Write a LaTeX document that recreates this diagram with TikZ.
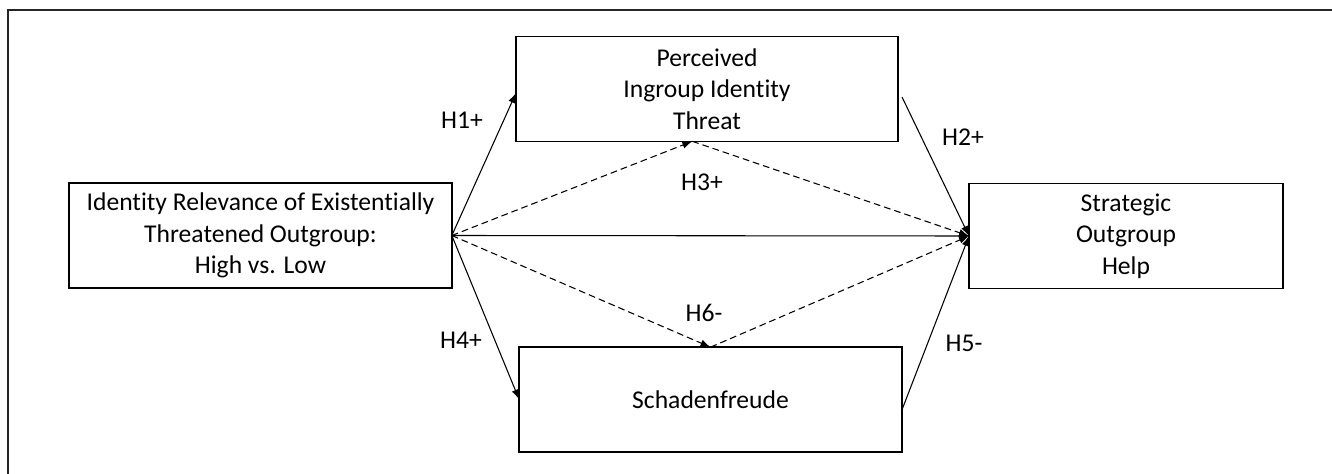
\documentclass[tikz,border=0pt]{standalone}
\usepackage{fontspec}
\setmainfont[Ligatures=NoCommon]{Carlito}
\usetikzlibrary{arrows.meta}
\begin{document}
\begin{tikzpicture}[x=0.75pt,y=-0.75pt,
        box/.style={draw,line width=1.1pt,minimum height=78.5pt,align=center,inner sep=0pt,outer sep=0pt,font=\fontsize{19.2}{23.6}\selectfont},
        pfeil/.style={line width=0.8pt,-{Latex[length=7.5pt,width=5.5pt]}},
        gestr/.style={pfeil,dash pattern=on 5pt off 3pt},
        lab/.style={font=\fontsize{19.2}{23.6}\selectfont}]
        \useasboundingbox (0,0) rectangle (1332,474);
        \draw[line width=1pt,black!85] (8,474) -- (8,10) -- (1332,10);
        % Kaesten
        \node[box,minimum width=287pt] (iv) at (260.5,235.5) {Identity Relevance of Existentially\\Threatened Outgroup:\\High vs. Low};
        \node[box,minimum width=286.5pt] (threat) at (707,89) {Perceived\\Ingroup Identity\\Threat};
        \node[box,minimum width=235.5pt] (help) at (1126,236) {Strategic\\Outgroup\\Help};
        \node[box,minimum width=287pt] (schaden) at (710.5,399.5) {Schadenfreude};
        % Pfade
        \draw[pfeil] (iv.east) -- ([yshift=-3pt]threat.west);
        \draw[pfeil] (iv.east) -- (schaden.west);
        \draw[pfeil] ([xshift=3pt,yshift=-6pt]threat.east) -- (help.west);
        \draw[pfeil] ([yshift=-8pt]schaden.east) -- (help.west);
        \draw[pfeil] (iv.east) -- (help.west);
        \draw[gestr] (iv.east) -- ([xshift=-11pt]threat.south);
        \draw[gestr] ([xshift=-11pt]threat.south) -- (help.west);
        \draw[gestr] (iv.east) -- (schaden.north);
        \draw[gestr] (schaden.north) -- (help.west);
        % Hypothesen
        \node[lab] (h1) at (462,120) {H1+};
        \node[lab] (h2) at (963,137) {H2+};
        \node[lab] (h3) at (702,182) {H3+};
        \node[lab] (h4) at (461,340) {H4+};
        \node[lab] (h5) at (964,343) {H5-};
        \node[lab] (h6) at (704,313) {H6-};
    \end{tikzpicture}
\end{document}
